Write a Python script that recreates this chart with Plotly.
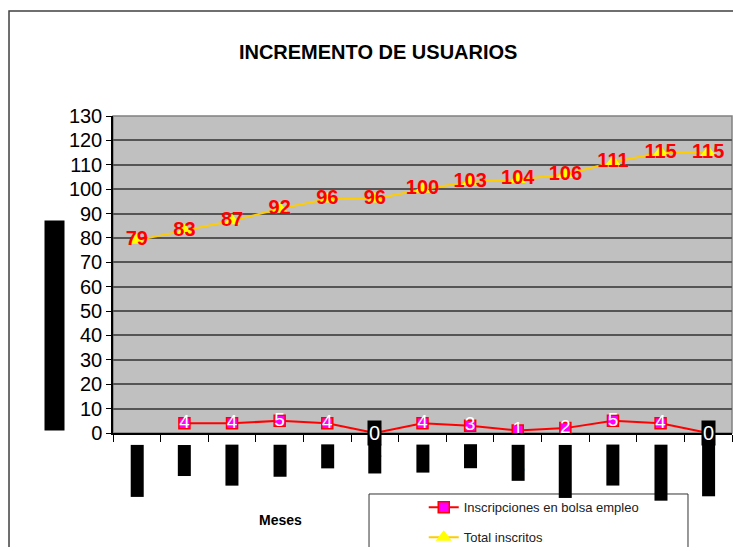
import plotly.graph_objects as go

meses = ["Diciembre", "Enero", "Febrero", "Marzo", "Abril", "Mayo", "Junio",
         "Julio", "Agosto", "Setiembre", "Octubre", "Noviembre", "Diciembre"]
inscripciones = [None, 4, 4, 5, 4, 0, 4, 3, 1, 2, 5, 4, 0]
total_inscritos = [79, 83, 87, 92, 96, 96, 100, 103, 104, 106, 111, 115, 115]
y_ticks = list(range(0, 131, 10))

FONT = "Arial, Liberation Sans, sans-serif"
x = list(range(len(meses)))

fig = go.Figure()

fig.add_trace(go.Scatter(
    x=x, y=inscripciones, name="Inscripciones en bolsa empleo",
    mode="lines+markers", legendgroup="a",
    line=dict(color="#FF0000", width=2),
    marker=dict(symbol="square", size=11, color="#FF00FF",
                line=dict(color="#FF0000", width=1.5)),
))
fig.add_trace(go.Scatter(
    x=x, y=total_inscritos, name="Total inscritos",
    mode="lines+markers", legendgroup="b",
    line=dict(color="#FFCC00", width=2),
    marker=dict(symbol="triangle-up", size=14, color="#FFFF00"),
))

# data labels
lab_x = [i for i, v in zip(x, inscripciones) if v not in (None, 0)]
lab_y = [v for v in inscripciones if v not in (None, 0)]
fig.add_trace(go.Scatter(
    x=lab_x, y=lab_y, mode="text", text=[str(v) for v in lab_y],
    textposition="middle center", showlegend=False, hoverinfo="skip",
    textfont=dict(family=FONT, size=19, color="white"),
))
fig.add_trace(go.Scatter(
    x=x, y=total_inscritos, mode="text", text=[str(v) for v in total_inscritos],
    textposition="middle center", showlegend=False, hoverinfo="skip",
    textfont=dict(family=FONT, size=20, color="#FF0000", weight="bold"),
))

annotations = []
for i, v in zip(x, inscripciones):
    if v == 0:
        annotations.append(dict(
            x=i, y=v, xref="x", yref="y", text=str(v), showarrow=False,
            xanchor="center", yanchor="middle", bgcolor="black", borderpad=1,
            font=dict(family=FONT, size=20, color="white")))

# category labels (rendered as dark blocks in the original)
for i, m in zip(x, meses):
    annotations.append(dict(
        x=i, y=-0.035, xref="x", yref="paper", text=m, showarrow=False,
        textangle=-90, xanchor="center", yanchor="top", bgcolor="black",
        borderpad=0, font=dict(family=FONT, size=11.3, color="black")))

annotations.append(dict(
    x=0.271, y=-0.274, xref="paper", yref="paper", text="<b>Meses</b>",
    showarrow=False, xanchor="center", yanchor="middle",
    font=dict(family=FONT, size=14, color="black")))
annotations.append(dict(
    x=-0.0937, y=0.3407, xref="paper", yref="paper",
    text="Número de usuarios inscritos", showarrow=False, textangle=-90,
    xanchor="center", yanchor="middle", bgcolor="black", borderpad=1,
    font=dict(family=FONT, size=16, color="black")))

fig.update_layout(
    width=733, height=539,
    margin=dict(l=105, r=9, t=108, b=114, autoexpand=False),
    paper_bgcolor="white", plot_bgcolor="#C0C0C0",
    font=dict(family=FONT, color="black"),
    title=dict(text="<b>INCREMENTO DE USUARIOS</b>", x=0.505, y=0.918,
               xanchor="center", yanchor="middle",
               font=dict(family=FONT, size=20, color="black")),
    showlegend=True,
    legend=dict(x=0.502, y=-0.187, xanchor="left", yanchor="top",
                bgcolor="rgba(0,0,0,0)", borderwidth=0,
                font=dict(family=FONT, size=13, color="#222222"),
                traceorder="grouped", tracegroupgap=10),
    annotations=annotations,
    shapes=[
        dict(type="rect", xref="paper", yref="paper", x0=-0.168, x1=1.03,
             y0=-0.4, y1=1.331, line=dict(color="#404040", width=1.5),
             fillcolor="rgba(0,0,0,0)", layer="below"),
        dict(type="rect", xref="paper", yref="paper", x0=0, x1=1, y0=0, y1=1,
             line=dict(color="#808080", width=1.5),
             fillcolor="rgba(0,0,0,0)", layer="below"),
        dict(type="rect", xref="paper", yref="paper", x0=0.4136, x1=0.9289,
             y0=-0.4, y1=-0.1924, line=dict(color="#333333", width=1),
             fillcolor="white", layer="below"),
    ],
)

fig.update_xaxes(
    type="linear", range=[-0.5, len(meses) - 0.5], showticklabels=False,
    tickmode="array", tickvals=[i - 0.5 for i in range(len(meses) + 1)],
    ticks="outside", ticklen=7, tickcolor="black", showgrid=False,
    zeroline=False, showline=True, linecolor="black", linewidth=1.5,
)
fig.update_yaxes(
    range=[0, 130], tickmode="array", tickvals=y_ticks,
    ticktext=[str(v) for v in y_ticks], ticks="outside", ticklen=5,
    tickcolor="black", tickfont=dict(family=FONT, size=20, color="black"),
    showgrid=True, gridcolor="#555555", gridwidth=1.5, zeroline=False,
    showline=True, linecolor="black", linewidth=1.5, automargin=False,
)

fig.write_html("out.html")
